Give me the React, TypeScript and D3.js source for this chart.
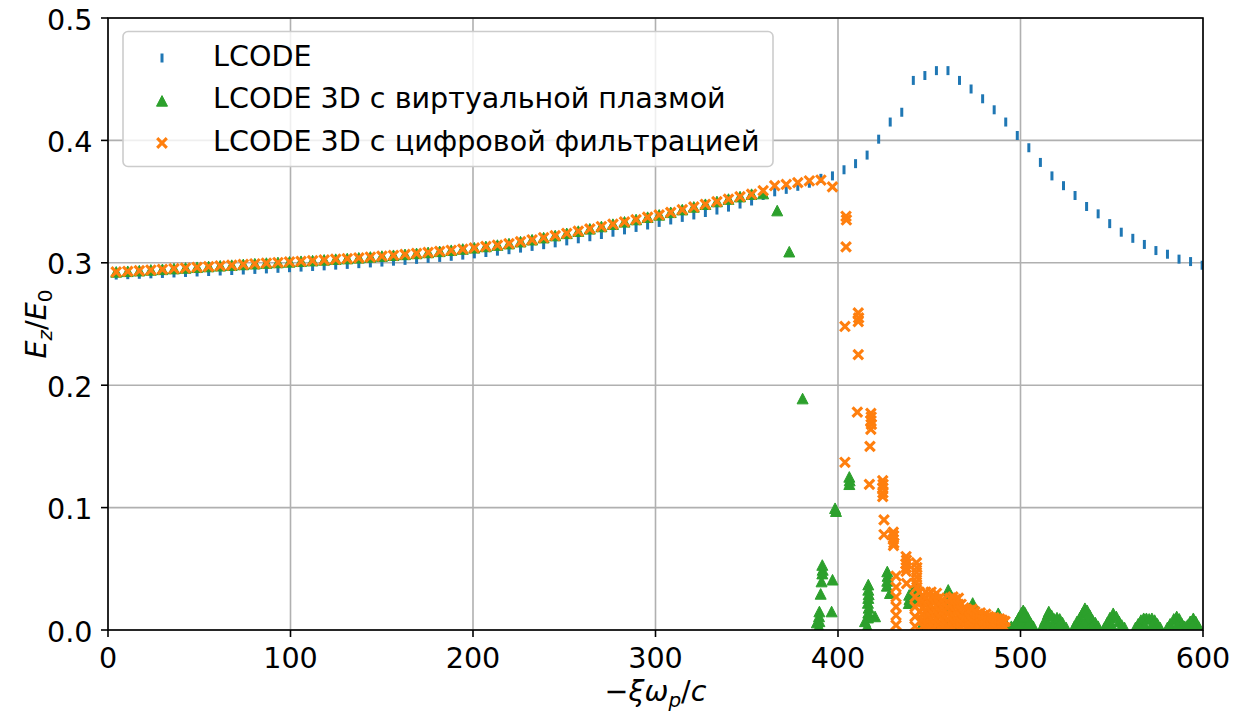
import React from 'react';
import * as d3 from 'd3';

const width = 1248;
const height = 715;
const plotLeft = 108;
const plotRight = 1203;
const plotTop = 18;
const plotBottom = 630;
const fontSize = 28.6;
const font = '"DejaVu Sans", sans-serif';

const BLUE = '#1f77b4';
const GREEN = '#2ca02c';
const ORANGE = '#ff7f0e';

const X_TICKS = [0, 100, 200, 300, 400, 500, 600];
const Y_TICKS = [0, 0.1, 0.2, 0.3, 0.4, 0.5];

// samples sit on a regular xi grid (one per plasma period)
const XI_START = 4.5;
const XI_STEP = 6.33;

// LCODE (2D) field on axis
const LCODE_EZ = [
  0.2900, 0.2903, 0.2906, 0.2910, 0.2913, 0.2917, 0.2921, 0.2925, 0.2929, 0.2933,
  0.2937, 0.2941, 0.2946, 0.2950, 0.2955, 0.2960, 0.2965, 0.2970, 0.2975, 0.2981,
  0.2987, 0.2993, 0.2999, 0.3006, 0.3013, 0.3020, 0.3028, 0.3036, 0.3044, 0.3053,
  0.3063, 0.3073, 0.3084, 0.3095, 0.3107, 0.3120, 0.3134, 0.3148, 0.3163, 0.3179,
  0.3196, 0.3213, 0.3231, 0.3250, 0.3269, 0.3289, 0.3309, 0.3330, 0.3350, 0.3371,
  0.3391, 0.3411, 0.3431, 0.3455, 0.3480, 0.3505, 0.3550, 0.3580, 0.3600, 0.3625,
  0.3650, 0.3690, 0.3710, 0.376, 0.381, 0.388, 0.401, 0.415, 0.423, 0.449,
  0.453, 0.457, 0.457, 0.449, 0.442, 0.434, 0.425, 0.415, 0.404, 0.394,
  0.382, 0.371, 0.363, 0.355, 0.346, 0.340, 0.332, 0.325, 0.320, 0.315,
  0.310, 0.307, 0.303, 0.301, 0.298,
];

// LCODE 3D, digital filtering: regular part
const FILTER_EZ = [
  0.2925, 0.2930, 0.2935, 0.2941, 0.2946, 0.2952, 0.2957, 0.2963, 0.2969, 0.2975,
  0.2980, 0.2986, 0.2992, 0.2997, 0.3002, 0.3007, 0.3012, 0.3017, 0.3023, 0.3029,
  0.3034, 0.3040, 0.3047, 0.3054, 0.3061, 0.3068, 0.3076, 0.3084, 0.3093, 0.3102,
  0.3112, 0.3122, 0.3133, 0.3144, 0.3156, 0.3172, 0.3188, 0.3205, 0.3222, 0.3240,
  0.3258, 0.3277, 0.3296, 0.3315, 0.3334, 0.3353, 0.3372, 0.3391, 0.3412, 0.3434,
  0.3456, 0.3478, 0.3500, 0.3520, 0.3540, 0.3560, 0.3590, 0.3630, 0.3640, 0.3655,
  0.3670, 0.3676, 0.3620,
];

// LCODE 3D, virtual plasma: regular part
const VIRTUAL_EZ = [
  0.2925, 0.2930, 0.2935, 0.2941, 0.2946, 0.2952, 0.2957, 0.2963, 0.2969, 0.2975,
  0.2980, 0.2986, 0.2992, 0.2997, 0.3002, 0.3007, 0.3012, 0.3017, 0.3023, 0.3029,
  0.3034, 0.3040, 0.3047, 0.3054, 0.3061, 0.3068, 0.3076, 0.3084, 0.3093, 0.3102,
  0.3112, 0.3122, 0.3133, 0.3144, 0.3156, 0.3172, 0.3188, 0.3205, 0.3222, 0.3240,
  0.3258, 0.3277, 0.3296, 0.3315, 0.3334, 0.3353, 0.3372, 0.3391, 0.3412, 0.3434,
  0.3456, 0.3478, 0.3500, 0.3520, 0.3540, 0.3560, 0.3565,
];

// virtual plasma: broken-down part [xi, Ez]
const VIRTUAL_TAIL = [
  [366.7, 0.3426], [373.3, 0.309], [380.6, 0.189],
  [398.4, 0.0994], [398.9, 0.097],
  [406.2, 0.125], [406.4, 0.122], [406.2, 0.119],
  [391.4, 0.053], [391.6, 0.049], [391.4, 0.046], [391.0, 0.0395], [397.0, 0.041],
  [390.5, 0.0294], [389.8, 0.015], [389.6, 0.011], [389.8, 0.007], [389.5, 0.003], [388.4, 0.006], [396.5, 0.015],
  [416.6, 0.037], [416.6, 0.0327], [416.8, 0.029], [416.6, 0.026], [416.4, 0.022], [416.8, 0.018],
  [416.6, 0.014], [416.4, 0.010], [414.8, 0.007], [416.0, 0.003], [420.3, 0.011],
  [427.0, 0.0477], [427.2, 0.044], [427.0, 0.040], [426.8, 0.036], [428.5, 0.030],
  [439.0, 0.0286], [439.2, 0.025], [438.8, 0.0218],
  [442.5, 0.036], [443.0, 0.031], [442.8, 0.026],
  [446, 0.004], [450, 0.006], [454, 0.004], [458, 0.008],
  [460.4, 0.0327], [460.6, 0.029], [460.2, 0.025], [460.4, 0.020],
  [464, 0.005], [468, 0.007],
  [473.8, 0.022], [474.0, 0.019], [473.8, 0.016],
  [478, 0.006], [482, 0.004],
  [487.8, 0.0136], [488.0, 0.011], [487.6, 0.008], [485.5, 0.005], [490, 0.004],
  [492, 0.005], [495, 0.003],
  [496, 0.002], [497.5, 0.006], [499, 0.010], [500.5, 0.014], [501.5, 0.016], [502.5, 0.014],
  [504, 0.010], [505.5, 0.006], [507, 0.003], [499, 0.004], [501.5, 0.008], [501.5, 0.003], [504, 0.004], [502, 0.011],
  [512, 0.003], [513.5, 0.008], [515, 0.013], [515.5, 0.015], [517, 0.012], [518.5, 0.009],
  [520, 0.010], [521.5, 0.009], [523, 0.006], [525, 0.002], [515, 0.005], [518, 0.003], [521, 0.004],
  [529.5, 0.003], [531, 0.007], [532.5, 0.010], [534, 0.014], [535.3, 0.0177], [536.5, 0.016],
  [538, 0.012], [539.5, 0.008], [541, 0.006], [542.5, 0.003], [533, 0.004], [536, 0.009], [539, 0.003], [535.5, 0.004],
  [546, 0.002], [547.5, 0.006], [549, 0.010], [550.8, 0.0136], [552.5, 0.011], [554, 0.007],
  [555.5, 0.004], [557, 0.002], [550, 0.004],
  [563, 0.002], [564.5, 0.005], [566, 0.008], [567.5, 0.0095], [569, 0.0095], [570.5, 0.009],
  [572, 0.0095], [573.5, 0.008], [575, 0.005], [576.5, 0.002], [568, 0.004], [572, 0.004],
  [580.5, 0.002], [582, 0.005], [584, 0.009], [585.6, 0.011], [587, 0.009], [588.5, 0.005],
  [590, 0.003], [591.5, 0.004], [593, 0.007], [594.7, 0.0095], [596, 0.007], [597.5, 0.003],
  [586, 0.004], [594.5, 0.004],
];

// digital filtering: broken-down part [xi, Ez]
const FILTER_TAIL = [
  [404.4, 0.338], [404.6, 0.335], [404.4, 0.313], [403.8, 0.248],
  [411.1, 0.259], [411.3, 0.255], [411.1, 0.252], [411.1, 0.225], [410.6, 0.178],
  [418.0, 0.177], [418.2, 0.174], [418.0, 0.171], [418.3, 0.168], [418.0, 0.164], [417.5, 0.150],
  [403.8, 0.137], [417.2, 0.119],
  [424.5, 0.122], [424.7, 0.119], [424.5, 0.116], [424.6, 0.112], [424.5, 0.109],
  [425.2, 0.090], [425.2, 0.078],
  [430.3, 0.080], [430.5, 0.077], [430.3, 0.074], [430.6, 0.071], [430.4, 0.069],
  [437.3, 0.060], [437.5, 0.057], [437.2, 0.054], [437.4, 0.051], [437.3, 0.048],
  [443.0, 0.055], [443.2, 0.051], [443.0, 0.047], [443.1, 0.043], [443.0, 0.039], [443.2, 0.035],
  [431.8, 0.044], [431.8, 0.035], [431.8, 0.027], [431.8, 0.019], [431.8, 0.012], [431.8, 0.004],
  [437.6, 0.038],
  [442.2, 0.027], [442.2, 0.019], [442.2, 0.011], [442.2, 0.003],
  [444.5, 0.031], [445.0, 0.023], [445.0, 0.015], [445.0, 0.007],
];

// digital filtering: dense noise 446..492, columns of [xi, Ez values]
const FILTER_MASS: [number, number[]][] = [
  [446.5, [0.028, 0.023, 0.018, 0.013, 0.008, 0.003]],
  [448.0, [0.031, 0.026, 0.021, 0.015, 0.010, 0.005, 0.001]],
  [449.5, [0.029, 0.024, 0.019, 0.014, 0.009, 0.004]],
  [451.0, [0.031, 0.026, 0.020, 0.015, 0.010, 0.005, 0.001]],
  [452.5, [0.027, 0.022, 0.017, 0.012, 0.007, 0.002]],
  [454.0, [0.030, 0.025, 0.020, 0.014, 0.009, 0.004]],
  [455.5, [0.026, 0.021, 0.016, 0.011, 0.006, 0.002]],
  [457.0, [0.024, 0.019, 0.014, 0.009, 0.004]],
  [458.5, [0.021, 0.016, 0.011, 0.006, 0.002]],
  [460.0, [0.023, 0.018, 0.013, 0.008, 0.003]],
  [461.5, [0.026, 0.021, 0.016, 0.011, 0.006, 0.001]],
  [463.0, [0.027, 0.022, 0.017, 0.012, 0.007, 0.002]],
  [464.5, [0.025, 0.020, 0.015, 0.010, 0.005]],
  [466.0, [0.026, 0.021, 0.016, 0.011, 0.006, 0.001]],
  [467.5, [0.021, 0.016, 0.011, 0.006, 0.002]],
  [469.0, [0.018, 0.013, 0.008, 0.004]],
  [470.5, [0.017, 0.012, 0.007, 0.002]],
  [472.0, [0.016, 0.011, 0.006, 0.002]],
  [473.5, [0.017, 0.012, 0.007, 0.003]],
  [475.0, [0.015, 0.010, 0.005, 0.001]],
  [476.5, [0.013, 0.009, 0.004]],
  [478.0, [0.014, 0.009, 0.005, 0.001]],
  [479.5, [0.012, 0.008, 0.003]],
  [481.0, [0.013, 0.008, 0.004]],
  [482.5, [0.011, 0.007, 0.002]],
  [484.0, [0.010, 0.006, 0.002]],
  [485.5, [0.010, 0.005, 0.001]],
  [487.0, [0.009, 0.005, 0.001]],
  [488.5, [0.009, 0.004]],
  [490.0, [0.008, 0.003]],
  [491.5, [0.007, 0.002]],
];

const LEGEND_LABELS = [
  'LCODE',
  'LCODE 3D с виртуальной плазмой',
  'LCODE 3D с цифровой фильтрацией',
];

const x = d3.scaleLinear().domain([0, 600]).range([plotLeft, plotRight]);
const y = d3.scaleLinear().domain([0, 0.5]).range([plotBottom, plotTop]);

const xiAt = (i: number) => XI_START + XI_STEP * i;

const lcodePts = LCODE_EZ.map((v, i) => [xiAt(i), v]);
const virtualPts = VIRTUAL_EZ.map((v, i) => [xiAt(i), v]).concat(VIRTUAL_TAIL);
const filterPts = FILTER_EZ.map((v, i) => [xiAt(i), v])
  .concat(FILTER_TAIL)
  .concat(FILTER_MASS.flatMap(([xi, vs]) => vs.map(v => [xi, v])));

const tri = 'M0,-5.4L-5.5,5.2L5.5,5.2Z';
const cross = 'M-4.8,-4.8L4.8,4.8M-4.8,4.8L4.8,-4.8';

const TickMark = ({ cx, cy }) => (
  <line x1={cx} x2={cx} y1={cy - 4.5} y2={cy + 4.5} stroke={BLUE} strokeWidth={3} />
);
const Triangle = ({ cx, cy }) => (
  <path d={tri} transform={`translate(${cx},${cy})`} fill={GREEN} stroke={GREEN} strokeWidth={1} />
);
const Cross = ({ cx, cy }) => (
  <path d={cross} transform={`translate(${cx},${cy})`} fill="none" stroke={ORANGE} strokeWidth={3.1} />
);

const App = () => {
  return (
    <svg width={width} height={height} style={{ position: 'absolute', left: 0, top: 0, background: '#fff' }}
      fontFamily={font}>
      <defs>
        <clipPath id="plot-clip">
          <rect x={plotLeft} y={plotTop} width={plotRight - plotLeft} height={plotBottom - plotTop} />
        </clipPath>
      </defs>

      {/* grid */}
      <g stroke="#b0b0b0" strokeWidth={1.6}>
        {X_TICKS.map(t => <line key={'gx' + t} x1={x(t)} x2={x(t)} y1={plotTop} y2={plotBottom} />)}
        {Y_TICKS.map(t => <line key={'gy' + t} x1={plotLeft} x2={plotRight} y1={y(t)} y2={y(t)} />)}
      </g>

      {/* data */}
      <g clipPath="url(#plot-clip)">
        <g>{lcodePts.map((d, i) => <TickMark key={i} cx={x(d[0])} cy={y(d[1])} />)}</g>
        <g>{virtualPts.map((d, i) => <Triangle key={i} cx={x(d[0])} cy={y(d[1])} />)}</g>
        <g>{filterPts.map((d, i) => <Cross key={i} cx={x(d[0])} cy={y(d[1])} />)}</g>
      </g>

      {/* spines */}
      <rect x={plotLeft} y={plotTop} width={plotRight - plotLeft} height={plotBottom - plotTop}
        fill="none" stroke="#000" strokeWidth={1.6} />

      {/* x axis */}
      <g fontSize={fontSize} textAnchor="middle">
        {X_TICKS.map(t => (
          <g key={'tx' + t}>
            <line x1={x(t)} x2={x(t)} y1={plotBottom} y2={plotBottom + 7} stroke="#000" strokeWidth={1.6} />
            <text x={x(t)} y={plotBottom + 38}>{t}</text>
          </g>
        ))}
      </g>

      {/* y axis */}
      <g fontSize={fontSize} textAnchor="end">
        {Y_TICKS.map(t => (
          <g key={'ty' + t}>
            <line x1={plotLeft - 7} x2={plotLeft} y1={y(t)} y2={y(t)} stroke="#000" strokeWidth={1.6} />
            <text x={plotLeft - 15.5} y={y(t) + 11.5}>{d3.format('.1f')(t)}</text>
          </g>
        ))}
      </g>

      {/* axis labels */}
      <text x={(plotLeft + plotRight) / 2} y={701} fontSize={fontSize} textAnchor="middle">
        <tspan>−</tspan>
        <tspan fontStyle="italic">ξω</tspan>
        <tspan fontStyle="italic" fontSize={fontSize * 0.7} dy={6}>p</tspan>
        <tspan dy={-6}>/</tspan>
        <tspan fontStyle="italic">c</tspan>
      </text>
      <text transform={`translate(46,${(plotTop + plotBottom) / 2}) rotate(-90)`} fontSize={fontSize} textAnchor="middle">
        <tspan fontStyle="italic">E</tspan>
        <tspan fontStyle="italic" fontSize={fontSize * 0.7} dy={6}>z</tspan>
        <tspan dy={-6}>/</tspan>
        <tspan fontStyle="italic">E</tspan>
        <tspan fontSize={fontSize * 0.7} dy={6}>0</tspan>
      </text>

      {/* legend */}
      <g>
        <rect x={123} y={31.5} width={650} height={135} rx={5} fill="#fff" fillOpacity={0.8}
          stroke="#cccccc" strokeWidth={1.6} />
        <TickMark cx={162} cy={58} />
        <Triangle cx={162} cy={101} />
        <Cross cx={162} cy={143} />
        {LEGEND_LABELS.map((label, i) => (
          <text key={label} x={213} y={[65.7, 108.3, 150.7][i]} fontSize={fontSize}>{label}</text>
        ))}
      </g>
    </svg>
  );
};

export default App;
